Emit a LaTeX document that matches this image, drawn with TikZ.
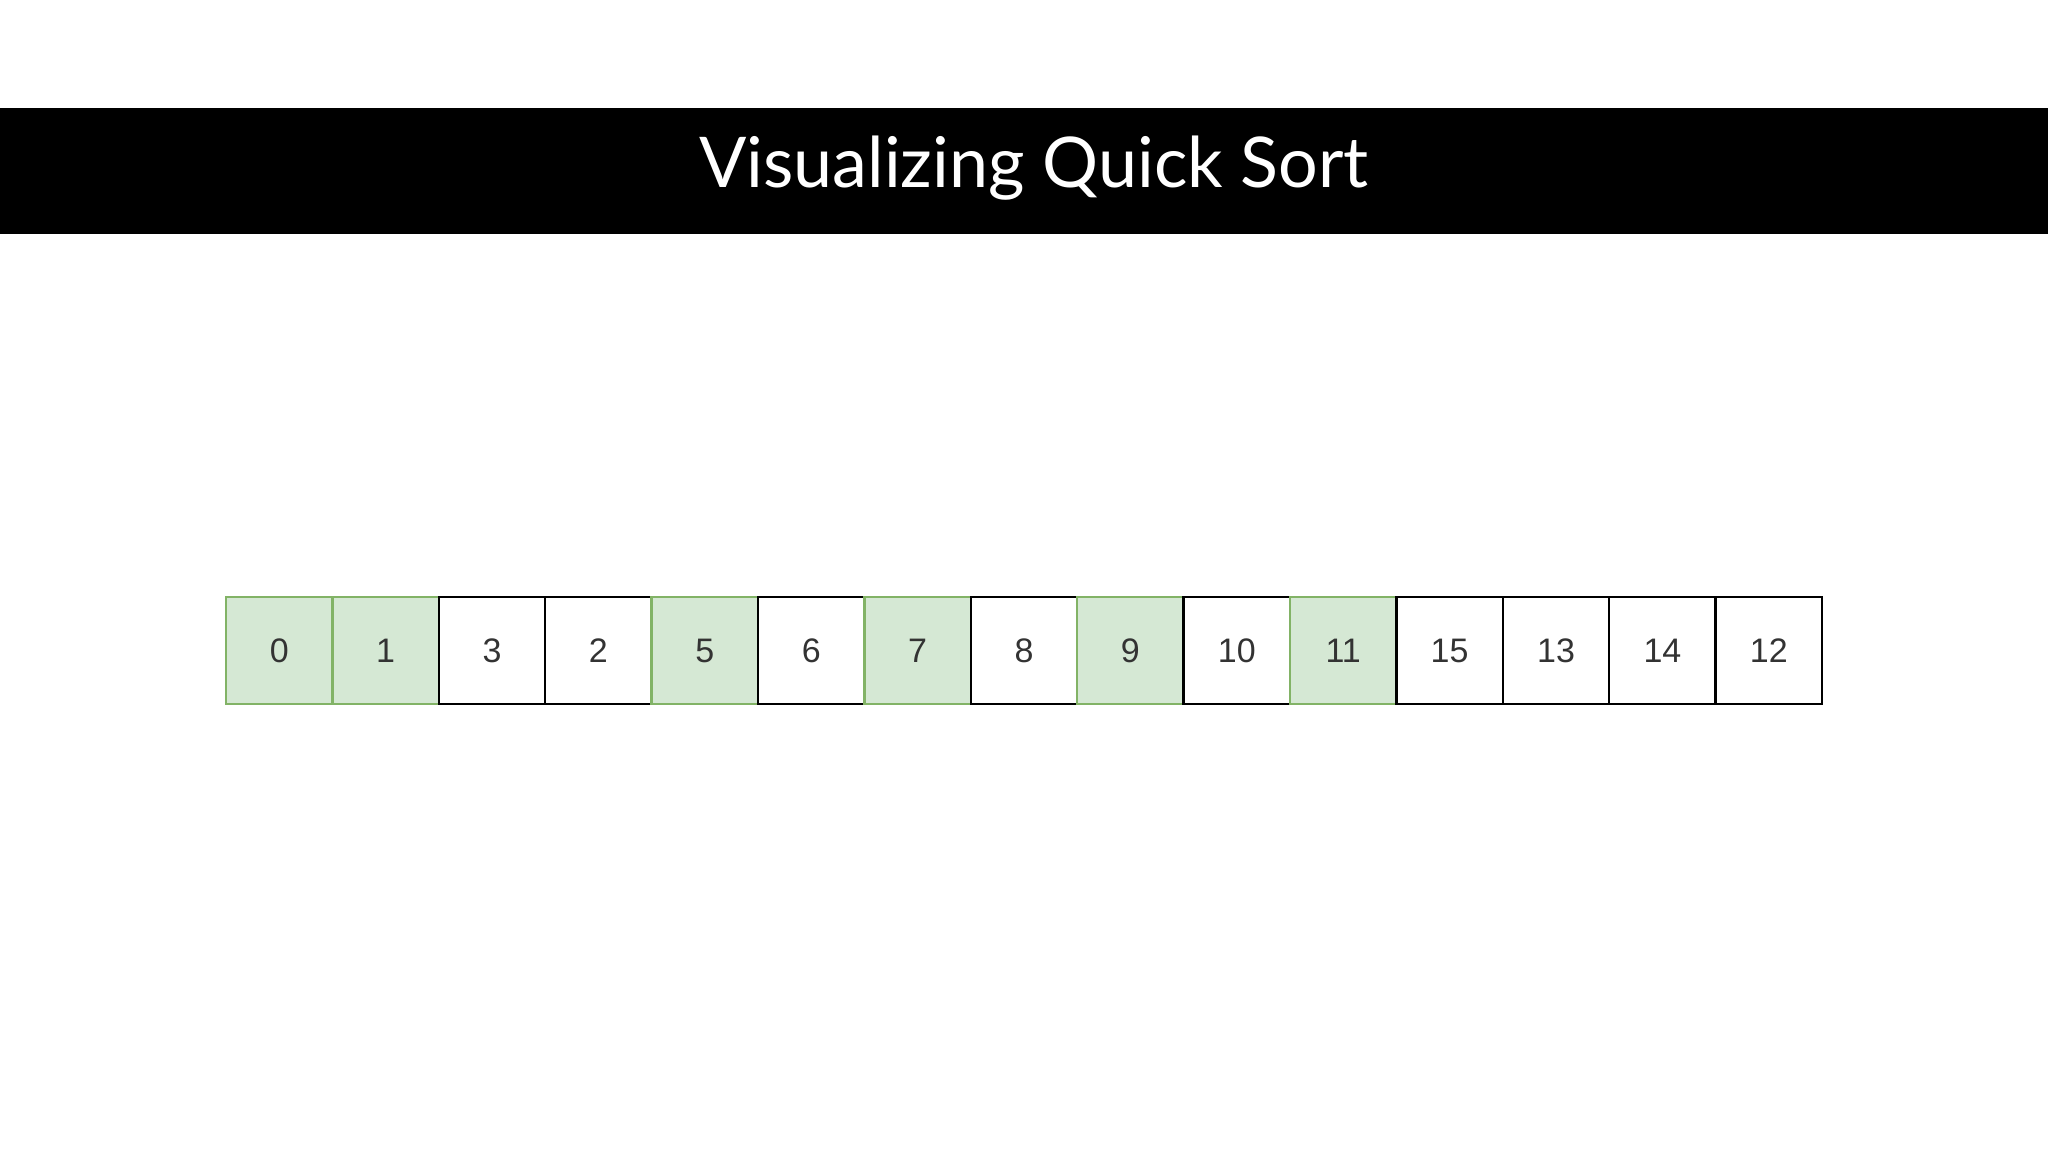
\documentclass[tikz,border=0pt]{standalone}
\usepackage{fontspec}
\setmainfont{Liberation Sans}
\newfontfamily\titlefont{Lato}
\definecolor{gfill}{HTML}{D5E8D4}
\definecolor{gline}{HTML}{82B366}
\definecolor{numc}{HTML}{333333}
\begin{document}
\begin{tikzpicture}[x=0.5pt,y=-0.5pt,
  cell/.style={draw=black,line width=1.2pt,minimum width=53.2pt,minimum height=53.5pt,inner sep=0pt,font=\fontsize{17}{20}\selectfont,text=numc},
  gcell/.style={cell,draw=gline,fill=gfill}]
\useasboundingbox (0,0) rectangle (2048,1152);
\fill[black] (0,108) rectangle (2048,234);
\node[text=white,font=\titlefont\fontsize{35}{40}\selectfont] (title) at (1034,168) {Visualizing Quick Sort};
\foreach \v/\s [count=\i from 0] in {0/gcell,1/gcell,3/cell,2/cell,5/gcell,6/cell,7/gcell,8/cell,9/gcell,10/cell,11/gcell,15/cell,13/cell,14/cell,12/cell}{
  \node[\s] (c\i) at ({226+106.4*\i+53.2},650.5) {\v};
}
\end{tikzpicture}
\end{document}
